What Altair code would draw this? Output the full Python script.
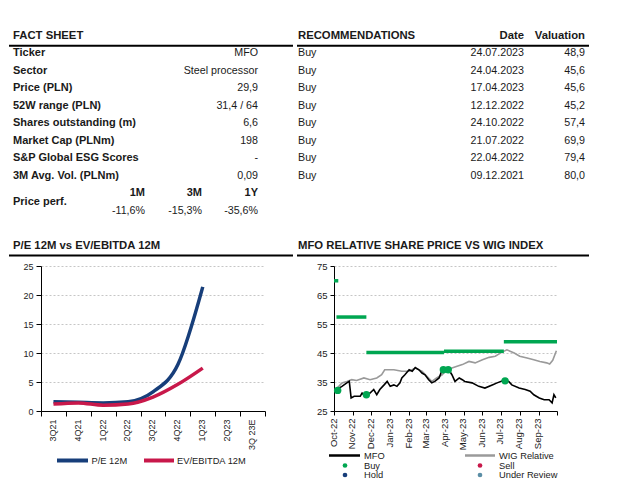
import altair as alt
import pandas as pd

FONT = "Liberation Sans"
TXT = "#1a1a1a"

# ---------------- data ----------------
fact_labels = ["Ticker", "Sector", "Price (PLN)", "52W range (PLN)", "Shares outstanding (m)",
               "Market Cap (PLNm)", "S&P Global ESG Scores", "3M Avg. Vol. (PLNm)"]
fact_values = ["MFO", "Steel processor", "29,9", "31,4 / 64", "6,6", "198", "-", "0,09"]
perf_periods = ["1M", "3M", "1Y"]
perf_values = ["-11,6%", "-15,3%", "-35,6%"]

rec_actions = ["Buy", "Buy", "Buy", "Buy", "Buy", "Buy", "Buy", "Buy"]
rec_dates = ["24.07.2023", "24.04.2023", "17.04.2023", "12.12.2022", "24.10.2022",
             "21.07.2022", "22.04.2022", "09.12.2021"]
rec_valuations = ["48,9", "45,6", "45,6", "45,2", "57,4", "69,9", "79,4", "80,0"]

quarters = ["3Q21", "4Q21", "1Q22", "2Q22", "3Q22", "4Q22", "1Q23", "2Q23", "3Q 23E"]
pe_values = [1.6, 1.5, 1.4, 1.6, 3.3, 8.0, 21.4]
ev_values = [1.2, 1.4, 1.0, 1.2, 2.4, 4.6, 7.4]

mfo_dates = ["2022-10-04", "2022-10-14", "2022-10-22", "2022-10-26", "2022-10-29", "2022-11-03",
             "2022-11-13", "2022-11-16", "2022-11-19", "2022-11-22", "2022-11-29", "2022-12-05",
             "2022-12-10", "2022-12-15", "2022-12-22", "2022-12-27", "2023-01-01", "2023-01-07",
             "2023-01-12", "2023-01-17", "2023-01-20", "2023-01-25", "2023-02-01", "2023-02-06",
             "2023-02-11", "2023-02-17", "2023-02-22", "2023-02-27", "2023-03-05", "2023-03-10",
             "2023-03-15", "2023-03-22", "2023-03-27", "2023-04-07", "2023-04-12", "2023-04-17",
             "2023-04-24", "2023-04-29", "2023-05-03", "2023-05-15", "2023-05-26", "2023-06-05",
             "2023-06-17", "2023-06-25", "2023-07-06", "2023-07-14", "2023-07-19", "2023-07-31",
             "2023-08-10", "2023-08-18", "2023-08-24", "2023-09-02", "2023-09-10", "2023-09-18",
             "2023-09-23", "2023-09-26", "2023-09-29"]
mfo_values = [32.2, 33.5, 34.7, 35.2, 29.5, 30.1, 30.1, 31.2, 30.5, 30.6, 31.2, 32.4,
              30.6, 32.4, 34.0, 35.2, 33.5, 34.0, 33.5, 34.7, 36.4, 37.5, 39.2, 38.7,
              40.0, 39.2, 38.1, 37.5, 35.8, 34.7, 35.2, 36.4, 39.2, 39.2, 37.5, 35.2,
              36.4, 35.8, 35.2, 34.7, 33.5, 32.9, 34.0, 34.7, 35.6, 35.2, 34.0, 32.9,
              32.4, 31.8, 30.6, 29.5, 28.9, 28.9, 27.8, 30.6, 29.5]

wig_dates = ["2022-10-04", "2022-10-14", "2022-10-22", "2022-10-30", "2022-11-07", "2022-11-19",
             "2022-11-29", "2022-12-10", "2022-12-18", "2022-12-23", "2023-01-07", "2023-01-20",
             "2023-02-01", "2023-02-11", "2023-02-22", "2023-03-02", "2023-03-10", "2023-03-18",
             "2023-03-27", "2023-04-01", "2023-04-12", "2023-04-29", "2023-05-10", "2023-05-20",
             "2023-06-01", "2023-06-12", "2023-06-22", "2023-07-03", "2023-07-11", "2023-07-23",
             "2023-08-01", "2023-08-13", "2023-08-24", "2023-09-03", "2023-09-14", "2023-09-19",
             "2023-09-24", "2023-09-30"]
wig_values = [32.4, 34.7, 35.2, 35.8, 35.5, 36.4, 35.8, 36.4, 37.5, 39.2, 39.2, 38.7,
              38.7, 39.8, 38.7, 37.0, 35.2, 36.4, 37.5, 38.7, 39.8, 41.0, 42.1, 41.6,
              42.7, 43.5, 43.9, 45.3, 46.1, 45.0, 43.9, 43.3, 42.7, 42.1, 41.6, 41.2,
              42.5, 45.8]

target_start = ["2022-10-01", "2022-10-05", "2022-11-23", "2023-03-30", "2023-07-06"]
target_end = ["2022-10-08", "2022-11-23", "2023-03-30", "2023-07-06", "2023-10-01"]
target_value = [69.9, 57.4, 45.2, 45.6, 48.9]

buy_dates = ["2022-10-07", "2022-11-23", "2023-03-29", "2023-04-06", "2023-07-08"]
buy_values = [32.1, 30.6, 39.2, 39.2, 35.4]

month_ticks = [(2022, 10), (2022, 11), (2022, 12), (2023, 1), (2023, 2), (2023, 3), (2023, 4),
               (2023, 5), (2023, 6), (2023, 7), (2023, 8), (2023, 9), (2023, 10)]

# ---------------- styles ----------------
NAVY = "#173e7a"
CRIMSON = "#c8184a"
GREEN = "#00a651"
GREY = "#9a9a9a"
STEEL = "#5b8ea6"
OX = -32  # header origin sits at the plot origin of the lower-left chart
OY = 1.5
NOVIEW = alt.ViewBackground(stroke="transparent", strokeWidth=0)

# ---------------- header (tables + section titles) ----------------
rowy = alt.Y("row:Q", scale=alt.Scale(domain=[0, 7], range=[43.7 + OY, 166.3 + OY], zero=False, nice=False),
             axis=None)


def text_layer(texts, rows, x, align, bold=False, size=10.7):
    df = pd.DataFrame({"t": texts, "row": rows})
    return alt.Chart(df).mark_text(
        align=align, baseline="middle", font=FONT, fontSize=size,
        fontWeight="bold" if bold else "normal", color=TXT
    ).encode(x=alt.value(x + OX), y=rowy, text="t:N")


def underline(y, x1, x2):
    return alt.Chart(pd.DataFrame({"a": [0]})).mark_rule(color="black", strokeWidth=2).encode(
        x=alt.value(x1 + OX), x2=alt.value(x2 + OX), y=alt.value(y + OY))


n = len(fact_labels)
header_layers = [
    text_layer(["FACT SHEET"], [-1], 4, "left", True, 11.3),
    text_layer(["RECOMMENDATIONS"], [-1], 289, "left", True, 11.3),
    text_layer(["Date"], [-1], 515, "right", True, 11.3),
    text_layer(["Valuation"], [-1], 576, "right", True, 11.3),
    underline(36.3, 0, 284),
    underline(36.3, 288, 580),
    text_layer(fact_labels, list(range(n)), 4, "left", True, 11),
    text_layer(fact_values, list(range(n)), 249, "right"),
    text_layer(["Price perf."], [8.5], 4, "left", True, 11),
    text_layer(rec_actions, list(range(len(rec_actions))), 289, "left"),
    text_layer(rec_dates, list(range(len(rec_dates))), 515, "right"),
    text_layer(rec_valuations, list(range(len(rec_valuations))), 576, "right"),
    text_layer(["P/E 12M vs EV/EBITDA 12M"], [11], 4, "left", True, 11.3),
    text_layer(["MFO RELATIVE SHARE PRICE VS WIG INDEX"], [11], 289, "left", True, 11.3),
    underline(246, 0, 284),
    underline(246, 288, 580),
]
for i, (p, v) in enumerate(zip(perf_periods, perf_values)):
    xr = [136, 193, 249][i]
    header_layers.append(text_layer([p], [8], xr, "right", True, 11))
    header_layers.append(text_layer([v], [9], xr, "right"))

header = alt.layer(*header_layers).properties(width=560, height=250, view=NOVIEW)

# ---------------- left chart: P/E vs EV/EBITDA ----------------
nq = len(pe_values)
pe_df = pd.DataFrame({"quarter": quarters[:nq], "value": pe_values})
ev_df = pd.DataFrame({"quarter": quarters[:nq], "value": ev_values})

q_axis = alt.Axis(title=None, labelAngle=-90, tickBand="extent", labelFontSize=9, labelFont=FONT,
                  labelColor="#222", domainColor="black", tickColor="black", tickSize=5,
                  labelPadding=3, labelOffset=-1.2, grid=False)
q_scale = alt.Scale(type="band", domain=quarters, paddingInner=0, paddingOuter=0)
v_axis = alt.Axis(title=None, values=[0, 5, 10, 15, 20, 25], grid=True, gridDash=[2, 2],
                  gridColor="#b8b8b8", gridWidth=0.8, tickSize=5, labelFontSize=9, labelFont=FONT,
                  labelColor="#222", domainColor="black", tickColor="black", labelPadding=3,
                  minExtent=32, maxExtent=32)
v_scale = alt.Scale(domain=[0, 25], nice=False, zero=True)


def q_line(df, color):
    return alt.Chart(df).mark_line(color=color, strokeWidth=3.5, interpolate="monotone").encode(
        x=alt.X("quarter:N", scale=q_scale, axis=q_axis, bandPosition=0.5, sort=quarters),
        y=alt.Y("value:Q", scale=v_scale, axis=v_axis))


def legend_line(x1, x2, y, color, width=4):
    return alt.Chart(pd.DataFrame({"a": [0]})).mark_rule(color=color, strokeWidth=width).encode(
        x=alt.value(x1), x2=alt.value(x2), y=alt.value(y))


def legend_text(label, x, y):
    return alt.Chart(pd.DataFrame({"a": [0]})).mark_text(
        text=label, align="left", baseline="middle", font=FONT, fontSize=9.3, color=TXT
    ).encode(x=alt.value(x), y=alt.value(y))


def legend_dot(x, y, color):
    return alt.Chart(pd.DataFrame({"a": [0]})).mark_circle(color=color, size=22, opacity=1).encode(
        x=alt.value(x), y=alt.value(y))


left = alt.layer(
    q_line(pe_df, NAVY),
    q_line(ev_df, CRIMSON),
    legend_line(16, 47, 194.5, NAVY),
    legend_text("P/E 12M", 50.5, 194.5),
    legend_line(103, 133, 194.5, CRIMSON),
    legend_text("EV/EBITDA 12M", 136, 194.5),
).properties(width=224, height=145, view=NOVIEW)

# ---------------- right chart: MFO vs WIG ----------------
mfo_df = pd.DataFrame({"date": mfo_dates, "value": mfo_values})
wig_df = pd.DataFrame({"date": wig_dates, "value": wig_values})
tgt_df = pd.DataFrame({"date": target_start, "end": target_end, "value": target_value})
buy_df = pd.DataFrame({"date": buy_dates, "value": buy_values})

t_scale = alt.Scale(type="utc", domain=[alt.DateTime(year=2022, month=10, date=1, utc=True),
                                        alt.DateTime(year=2023, month=10, date=1, utc=True)])
t_axis = alt.Axis(title=None, values=[alt.DateTime(year=y, month=m, date=1, utc=True) for y, m in month_ticks],
                  labelAngle=-90, labelFontSize=9.5,
                  labelFont=FONT, labelColor="#222", domainColor="black", tickColor="black",
                  tickSize=4, labelPadding=3, labelOffset=-1, grid=False,
                  labelExpr="utcyear(datum.value) == 2023 && utcmonth(datum.value) == 9 ? '' : utcFormat(datum.value, '%b-%y')")
p_scale = alt.Scale(domain=[25, 75], nice=False, zero=False)
p_axis = alt.Axis(title=None, values=[25, 35, 45, 55, 65, 75], grid=True, gridDash=[2, 2],
                  gridColor="#b8b8b8", gridWidth=0.8, tickSize=4, labelFontSize=9.5, labelFont=FONT,
                  labelColor="#222", domainColor="black", tickColor="black", labelPadding=3,
                  minExtent=32, maxExtent=32)

X = alt.X("date:T", scale=t_scale, axis=t_axis)
Y = alt.Y("value:Q", scale=p_scale, axis=p_axis)

right = alt.layer(
    alt.Chart(wig_df).mark_line(color=GREY, strokeWidth=1.6).encode(x=X, y=Y),
    alt.Chart(mfo_df).mark_line(color="black", strokeWidth=1.6).encode(x=X, y=Y),
    alt.Chart(tgt_df).mark_rule(color=GREEN, strokeWidth=3.5).encode(x=X, x2="end:T", y=Y),
    alt.Chart(buy_df).mark_circle(color=GREEN, size=55, opacity=1).encode(x=X, y=Y),
    legend_line(-5, 26, 189.5, "black", 2.5),
    legend_text("MFO", 30, 189.5),
    legend_line(131, 161, 189.5, GREY, 2.5),
    legend_text("WIG Relative", 165, 189.5),
    legend_dot(11, 199.5, GREEN),
    legend_text("Buy", 30, 199.5),
    legend_dot(146, 199.5, CRIMSON),
    legend_text("Sell", 165, 199.5),
    legend_dot(11, 209, NAVY),
    legend_text("Hold", 30, 209),
    legend_dot(146, 209, STEEL),
    legend_text("Under Review", 165, 209),
).properties(width=223, height=145, view=NOVIEW)

chart = alt.vconcat(
    header,
    alt.hconcat(left, right, spacing=36),
    spacing=3,
).properties(padding=0).configure_view(stroke="transparent", strokeWidth=0).configure(font=FONT)

chart.save("out.html", embed_options={"renderer": "svg", "actions": False})
